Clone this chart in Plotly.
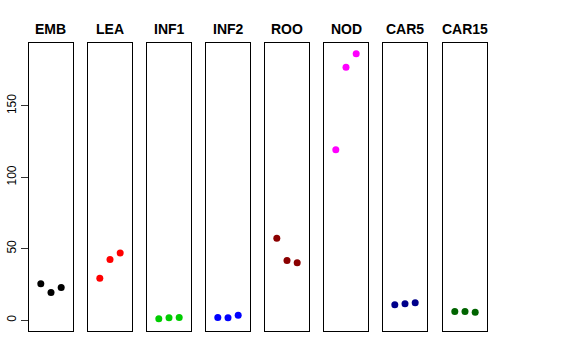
import plotly.graph_objects as go

categories = ["EMB", "LEA", "INF1", "INF2", "ROO", "NOD", "CAR5", "CAR15"]
colors = ["#000000", "#FF0000", "#00CD00", "#0000FF", "#8B0000", "#FF00FF", "#00008B", "#006400"]
rep = [1, 2, 3]
values = {
    "EMB": [25.4, 19.3, 22.8],
    "LEA": [29.4, 42.4, 47.0],
    "INF1": [0.9, 1.6, 1.8],
    "INF2": [1.8, 1.6, 3.5],
    "ROO": [57.3, 41.7, 40.1],
    "NOD": [119.3, 177.1, 186.4],
    "CAR5": [10.7, 11.4, 12.1],
    "CAR15": [6.0, 6.0, 5.6],
}
y_ticks = [0, 50, 100, 150]

W, H = 576, 360
fig = go.Figure()
layout = {}
panel_left = [29, 88, 147, 206, 265, 324, 383, 443]
pw = 44
top, bottom = 43, 331
ydom = [(H - bottom) / H, (H - top) / H]
yrange = [-7.6, 194.0]

annotations = []
for i, cat in enumerate(categories):
    n = i + 1
    xa = "x" if n == 1 else f"x{n}"
    ya = "y" if n == 1 else f"y{n}"
    fig.add_trace(go.Scatter(
        x=rep, y=values[cat], mode="markers", xaxis=xa, yaxis=ya,
        marker=dict(color=colors[i], size=7, line=dict(width=0)),
        showlegend=False, hoverinfo="skip"))
    xd = [panel_left[i] / W, (panel_left[i] + pw) / W]
    layout[f"xaxis{'' if n == 1 else n}"] = dict(
        domain=xd, range=[-0.16, 4.16], showgrid=False, zeroline=False,
        showline=True, mirror=True, linecolor="black", linewidth=1,
        showticklabels=False, ticks="", anchor=ya, fixedrange=True, automargin=False)
    ycfg = dict(domain=ydom, range=yrange, showgrid=False, zeroline=False,
                showline=True, mirror=True, linecolor="black", linewidth=1,
                anchor=xa, fixedrange=True, automargin=False)
    if n == 1:
        ycfg.update(tickvals=y_ticks, ticktext=[str(v) for v in y_ticks],
                    ticks="outside", ticklen=7, tickcolor="#333333", tickwidth=1,
                    tickangle=-90, tickfont=dict(family="Liberation Sans, Arial", size=12, color="black"))
    else:
        ycfg.update(showticklabels=False, ticks="")
    layout[f"yaxis{'' if n == 1 else n}"] = ycfg
    annotations.append(dict(
        text=f"<b>{cat}</b>", x=(xd[0] + xd[1]) / 2, y=(H - 29) / H,
        xref="paper", yref="paper", xanchor="center", yanchor="middle",
        showarrow=False, font=dict(family="Liberation Sans, Arial", size=14, color="black")))

fig.update_layout(
    width=W, height=H, margin=dict(l=0, r=0, t=0, b=0, autoexpand=False),
    paper_bgcolor="white", plot_bgcolor="white",
    annotations=annotations, **layout)

fig.write_html("out.html", config={"displayModeBar": False},
               post_script="document.body.style.margin='0';")
